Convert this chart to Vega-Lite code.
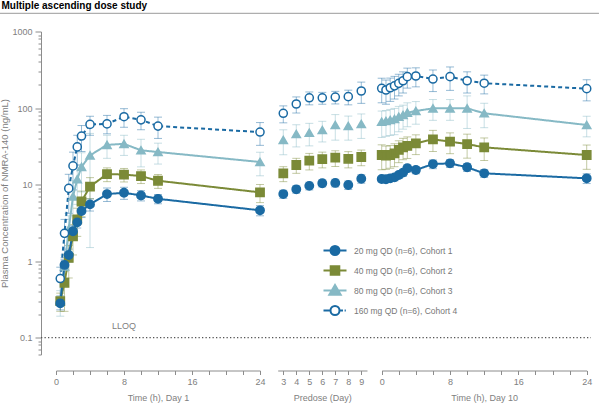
{
  "$schema": "https://vega.github.io/schema/vega-lite/v6.json",
  "width": 550,
  "height": 323,
  "autosize": {"type": "none"},
  "padding": {"left": 41, "top": 31.5, "right": 8, "bottom": 50.5},
  "background": "white",
  "title": {"text": "Multiple ascending dose study", "anchor": "start", "frame": "bounds", "fontSize": 10, "fontWeight": "bold", "color": "#000000", "font": "Liberation Sans", "offset": 2, "dx": 2},
  "config": {
    "view": {"stroke": null},
    "font": "Liberation Sans",
    "axis": {"grid": false, "labelColor": "#808080", "titleColor": "#808080", "domainColor": "#8c8c8c", "tickColor": "#8c8c8c", "labelFontSize": 9, "titleFontSize": 9, "titleFontWeight": "normal", "labelFont": "Liberation Sans", "titleFont": "Liberation Sans", "labelFlush": false, "labelOverlap": false, "labelBound": false}
  },
  "datasets": {
    "d1": [
      {"c": "80 mg QD (n=6), Cohort 3", "t": 0.5, "m": 0.3, "lo": 0.19, "hi": 0.41},
      {"c": "80 mg QD (n=6), Cohort 3", "t": 1, "m": 0.85, "lo": 0.5, "hi": 1.2},
      {"c": "80 mg QD (n=6), Cohort 3", "t": 1.5, "m": 2.6, "lo": 1.3, "hi": 3.9},
      {"c": "80 mg QD (n=6), Cohort 3", "t": 2, "m": 7.0, "lo": 2.8, "hi": 11.2},
      {"c": "80 mg QD (n=6), Cohort 3", "t": 2.5, "m": 11.7, "lo": 5.5, "hi": 17.9},
      {"c": "80 mg QD (n=6), Cohort 3", "t": 3, "m": 17, "lo": 8, "hi": 26},
      {"c": "80 mg QD (n=6), Cohort 3", "t": 4, "m": 24, "lo": 1.5, "hi": 46.5},
      {"c": "80 mg QD (n=6), Cohort 3", "t": 6, "m": 33, "lo": 22, "hi": 44},
      {"c": "80 mg QD (n=6), Cohort 3", "t": 8, "m": 34, "lo": 24, "hi": 44},
      {"c": "80 mg QD (n=6), Cohort 3", "t": 10, "m": 28, "lo": 17, "hi": 39},
      {"c": "80 mg QD (n=6), Cohort 3", "t": 12, "m": 26.6, "lo": 18.5, "hi": 34.7},
      {"c": "80 mg QD (n=6), Cohort 3", "t": 24, "m": 19.7, "lo": 13, "hi": 26.4},
      {"c": "40 mg QD (n=6), Cohort 2", "t": 0.5, "m": 0.3, "lo": 0.22, "hi": 0.38},
      {"c": "40 mg QD (n=6), Cohort 2", "t": 1, "m": 0.52, "lo": 0.22, "hi": 0.82},
      {"c": "40 mg QD (n=6), Cohort 2", "t": 1.5, "m": 1.1, "lo": 0.6, "hi": 1.6},
      {"c": "40 mg QD (n=6), Cohort 2", "t": 2, "m": 2.1, "lo": 1.2, "hi": 3.0},
      {"c": "40 mg QD (n=6), Cohort 2", "t": 2.5, "m": 3.5, "lo": 2.1, "hi": 4.9},
      {"c": "40 mg QD (n=6), Cohort 2", "t": 3, "m": 6.0, "lo": 3.8, "hi": 8.2},
      {"c": "40 mg QD (n=6), Cohort 2", "t": 4, "m": 9.4, "lo": 6.5, "hi": 12.3},
      {"c": "40 mg QD (n=6), Cohort 2", "t": 6, "m": 13.7, "lo": 10.9, "hi": 16.5},
      {"c": "40 mg QD (n=6), Cohort 2", "t": 8, "m": 13.5, "lo": 10.8, "hi": 16.2},
      {"c": "40 mg QD (n=6), Cohort 2", "t": 10, "m": 12.9, "lo": 10.3, "hi": 15.5},
      {"c": "40 mg QD (n=6), Cohort 2", "t": 12, "m": 11.2, "lo": 8.9, "hi": 13.5},
      {"c": "40 mg QD (n=6), Cohort 2", "t": 24, "m": 7.9, "lo": 5.8, "hi": 10.0},
      {"c": "20 mg QD (n=6), Cohort 1", "t": 0.5, "m": 0.28, "lo": 0.23, "hi": 0.33},
      {"c": "20 mg QD (n=6), Cohort 1", "t": 1, "m": 0.89, "lo": 0.74, "hi": 1.04},
      {"c": "20 mg QD (n=6), Cohort 1", "t": 1.5, "m": 1.2, "lo": 0.97, "hi": 1.43},
      {"c": "20 mg QD (n=6), Cohort 1", "t": 2, "m": 2.45, "lo": 2.0, "hi": 2.9},
      {"c": "20 mg QD (n=6), Cohort 1", "t": 2.5, "m": 3.2, "lo": 2.7, "hi": 3.7},
      {"c": "20 mg QD (n=6), Cohort 1", "t": 3, "m": 4.5, "lo": 3.7, "hi": 5.3},
      {"c": "20 mg QD (n=6), Cohort 1", "t": 4, "m": 5.5, "lo": 4.5, "hi": 6.5},
      {"c": "20 mg QD (n=6), Cohort 1", "t": 6, "m": 7.5, "lo": 6.0, "hi": 9.0},
      {"c": "20 mg QD (n=6), Cohort 1", "t": 8, "m": 7.8, "lo": 6.4, "hi": 9.2},
      {"c": "20 mg QD (n=6), Cohort 1", "t": 10, "m": 7.2, "lo": 6.1, "hi": 8.3},
      {"c": "20 mg QD (n=6), Cohort 1", "t": 12, "m": 6.5, "lo": 5.6, "hi": 7.4},
      {"c": "20 mg QD (n=6), Cohort 1", "t": 24, "m": 4.6, "lo": 3.9, "hi": 5.3},
      {"c": "160 mg QD (n=6), Cohort 4", "t": 0.5, "m": 0.59, "lo": 0.35, "hi": 0.83},
      {"c": "160 mg QD (n=6), Cohort 4", "t": 1, "m": 2.3, "lo": 1.1, "hi": 3.5},
      {"c": "160 mg QD (n=6), Cohort 4", "t": 1.5, "m": 8.9, "lo": 4.2, "hi": 13.6},
      {"c": "160 mg QD (n=6), Cohort 4", "t": 2, "m": 17.5, "lo": 8.5, "hi": 26.5},
      {"c": "160 mg QD (n=6), Cohort 4", "t": 2.5, "m": 31, "lo": 18, "hi": 44},
      {"c": "160 mg QD (n=6), Cohort 4", "t": 3, "m": 43, "lo": 27, "hi": 59},
      {"c": "160 mg QD (n=6), Cohort 4", "t": 4, "m": 61, "lo": 44, "hi": 78},
      {"c": "160 mg QD (n=6), Cohort 4", "t": 6, "m": 62, "lo": 46, "hi": 80},
      {"c": "160 mg QD (n=6), Cohort 4", "t": 8, "m": 77, "lo": 56, "hi": 98},
      {"c": "160 mg QD (n=6), Cohort 4", "t": 10, "m": 70, "lo": 52, "hi": 88},
      {"c": "160 mg QD (n=6), Cohort 4", "t": 12, "m": 58, "lo": 40, "hi": 76},
      {"c": "160 mg QD (n=6), Cohort 4", "t": 24, "m": 48.5, "lo": 32.5, "hi": 64.5}
    ],
    "pre": [
      {"c": "80 mg QD (n=6), Cohort 3", "t": 3, "m": 38.2, "lo": 24.5, "hi": 51.9},
      {"c": "80 mg QD (n=6), Cohort 3", "t": 4, "m": 45.7, "lo": 31, "hi": 60.4},
      {"c": "80 mg QD (n=6), Cohort 3", "t": 5, "m": 47.5, "lo": 32, "hi": 63},
      {"c": "80 mg QD (n=6), Cohort 3", "t": 6, "m": 51.5, "lo": 36, "hi": 67},
      {"c": "80 mg QD (n=6), Cohort 3", "t": 7, "m": 60, "lo": 38, "hi": 82},
      {"c": "80 mg QD (n=6), Cohort 3", "t": 8, "m": 58.2, "lo": 38, "hi": 78.4},
      {"c": "80 mg QD (n=6), Cohort 3", "t": 9, "m": 61.8, "lo": 40, "hi": 83.6},
      {"c": "40 mg QD (n=6), Cohort 2", "t": 3, "m": 14.0, "lo": 10.9, "hi": 17.1},
      {"c": "40 mg QD (n=6), Cohort 2", "t": 4, "m": 18.0, "lo": 14.0, "hi": 22.0},
      {"c": "40 mg QD (n=6), Cohort 2", "t": 5, "m": 20.5, "lo": 15.5, "hi": 25.5},
      {"c": "40 mg QD (n=6), Cohort 2", "t": 6, "m": 21.5, "lo": 16.5, "hi": 26.5},
      {"c": "40 mg QD (n=6), Cohort 2", "t": 7, "m": 22.4, "lo": 17.2, "hi": 27.6},
      {"c": "40 mg QD (n=6), Cohort 2", "t": 8, "m": 21.7, "lo": 16.5, "hi": 26.9},
      {"c": "40 mg QD (n=6), Cohort 2", "t": 9, "m": 22.9, "lo": 17.6, "hi": 28.2},
      {"c": "20 mg QD (n=6), Cohort 1", "t": 3, "m": 7.5, "lo": 6.6, "hi": 8.4},
      {"c": "20 mg QD (n=6), Cohort 1", "t": 4, "m": 8.65, "lo": 7.7, "hi": 9.6},
      {"c": "20 mg QD (n=6), Cohort 1", "t": 5, "m": 9.6, "lo": 8.5, "hi": 10.7},
      {"c": "20 mg QD (n=6), Cohort 1", "t": 6, "m": 10.4, "lo": 9.3, "hi": 11.5},
      {"c": "20 mg QD (n=6), Cohort 1", "t": 7, "m": 10.5, "lo": 9.3, "hi": 11.7},
      {"c": "20 mg QD (n=6), Cohort 1", "t": 8, "m": 9.85, "lo": 8.6, "hi": 11.1},
      {"c": "20 mg QD (n=6), Cohort 1", "t": 9, "m": 11.9, "lo": 10.4, "hi": 13.4},
      {"c": "160 mg QD (n=6), Cohort 4", "t": 3, "m": 85.3, "lo": 64, "hi": 106.6},
      {"c": "160 mg QD (n=6), Cohort 4", "t": 4, "m": 112.8, "lo": 86, "hi": 139.6},
      {"c": "160 mg QD (n=6), Cohort 4", "t": 5, "m": 136, "lo": 110, "hi": 162},
      {"c": "160 mg QD (n=6), Cohort 4", "t": 6, "m": 136, "lo": 112, "hi": 160},
      {"c": "160 mg QD (n=6), Cohort 4", "t": 7, "m": 139, "lo": 113, "hi": 165},
      {"c": "160 mg QD (n=6), Cohort 4", "t": 8, "m": 140.6, "lo": 110, "hi": 171},
      {"c": "160 mg QD (n=6), Cohort 4", "t": 9, "m": 166.8, "lo": 115, "hi": 218}
    ],
    "d10": [
      {"c": "80 mg QD (n=6), Cohort 3", "t": 0, "m": 66.2, "lo": 41.2, "hi": 91.2},
      {"c": "80 mg QD (n=6), Cohort 3", "t": 0.5, "m": 67.6, "lo": 42.6, "hi": 92.6},
      {"c": "80 mg QD (n=6), Cohort 3", "t": 1, "m": 69.7, "lo": 43.7, "hi": 95.7},
      {"c": "80 mg QD (n=6), Cohort 3", "t": 1.5, "m": 71.8, "lo": 44.8, "hi": 98.8},
      {"c": "80 mg QD (n=6), Cohort 3", "t": 2, "m": 76.9, "lo": 48.9, "hi": 104.9},
      {"c": "80 mg QD (n=6), Cohort 3", "t": 2.5, "m": 80.9, "lo": 52.9, "hi": 108.9},
      {"c": "80 mg QD (n=6), Cohort 3", "t": 3, "m": 86.9, "lo": 56.9, "hi": 116.9},
      {"c": "80 mg QD (n=6), Cohort 3", "t": 4, "m": 91.4, "lo": 61.4, "hi": 121.4},
      {"c": "80 mg QD (n=6), Cohort 3", "t": 6, "m": 99, "lo": 69, "hi": 129},
      {"c": "80 mg QD (n=6), Cohort 3", "t": 8, "m": 99, "lo": 69, "hi": 129},
      {"c": "80 mg QD (n=6), Cohort 3", "t": 10, "m": 99, "lo": 54, "hi": 144},
      {"c": "80 mg QD (n=6), Cohort 3", "t": 12, "m": 85.3, "lo": 55.3, "hi": 115.3},
      {"c": "80 mg QD (n=6), Cohort 3", "t": 24, "m": 60, "lo": 42, "hi": 78},
      {"c": "40 mg QD (n=6), Cohort 2", "t": 0, "m": 24.3, "lo": 15.6, "hi": 33.0},
      {"c": "40 mg QD (n=6), Cohort 2", "t": 0.5, "m": 23.8, "lo": 15.8, "hi": 31.8},
      {"c": "40 mg QD (n=6), Cohort 2", "t": 1, "m": 24.3, "lo": 16.3, "hi": 32.3},
      {"c": "40 mg QD (n=6), Cohort 2", "t": 1.5, "m": 25.6, "lo": 17.1, "hi": 34.1},
      {"c": "40 mg QD (n=6), Cohort 2", "t": 2, "m": 28.3, "lo": 19.3, "hi": 37.3},
      {"c": "40 mg QD (n=6), Cohort 2", "t": 2.5, "m": 30.6, "lo": 21.1, "hi": 40.1},
      {"c": "40 mg QD (n=6), Cohort 2", "t": 3, "m": 31.9, "lo": 21.9, "hi": 41.9},
      {"c": "40 mg QD (n=6), Cohort 2", "t": 4, "m": 34.6, "lo": 24.6, "hi": 44.6},
      {"c": "40 mg QD (n=6), Cohort 2", "t": 6, "m": 39, "lo": 27, "hi": 51},
      {"c": "40 mg QD (n=6), Cohort 2", "t": 8, "m": 36.3, "lo": 25.3, "hi": 47.3},
      {"c": "40 mg QD (n=6), Cohort 2", "t": 10, "m": 33.8, "lo": 22.1, "hi": 45.5},
      {"c": "40 mg QD (n=6), Cohort 2", "t": 12, "m": 30.6, "lo": 20.6, "hi": 40.6},
      {"c": "40 mg QD (n=6), Cohort 2", "t": 24, "m": 24.3, "lo": 15.8, "hi": 32.8},
      {"c": "20 mg QD (n=6), Cohort 1", "t": 0, "m": 11.8, "lo": 10.8, "hi": 12.8},
      {"c": "20 mg QD (n=6), Cohort 1", "t": 0.5, "m": 11.7, "lo": 10.7, "hi": 12.7},
      {"c": "20 mg QD (n=6), Cohort 1", "t": 1, "m": 12.05, "lo": 10.95, "hi": 13.15},
      {"c": "20 mg QD (n=6), Cohort 1", "t": 1.5, "m": 12.4, "lo": 11.2, "hi": 13.6},
      {"c": "20 mg QD (n=6), Cohort 1", "t": 2, "m": 13.3, "lo": 12.0, "hi": 14.6},
      {"c": "20 mg QD (n=6), Cohort 1", "t": 2.5, "m": 14.3, "lo": 12.8, "hi": 15.8},
      {"c": "20 mg QD (n=6), Cohort 1", "t": 3, "m": 16.3, "lo": 14.5, "hi": 18.1},
      {"c": "20 mg QD (n=6), Cohort 1", "t": 4, "m": 15.5, "lo": 13.8, "hi": 17.2},
      {"c": "20 mg QD (n=6), Cohort 1", "t": 6, "m": 18.5, "lo": 16.1, "hi": 20.9},
      {"c": "20 mg QD (n=6), Cohort 1", "t": 8, "m": 18.9, "lo": 16.7, "hi": 21.1},
      {"c": "20 mg QD (n=6), Cohort 1", "t": 10, "m": 16.8, "lo": 14.8, "hi": 18.8},
      {"c": "20 mg QD (n=6), Cohort 1", "t": 12, "m": 14.0, "lo": 12.4, "hi": 15.6},
      {"c": "20 mg QD (n=6), Cohort 1", "t": 24, "m": 12.05, "lo": 10.3, "hi": 13.8},
      {"c": "160 mg QD (n=6), Cohort 4", "t": 0, "m": 181, "lo": 117, "hi": 245},
      {"c": "160 mg QD (n=6), Cohort 4", "t": 0.5, "m": 172, "lo": 112, "hi": 232},
      {"c": "160 mg QD (n=6), Cohort 4", "t": 1, "m": 184, "lo": 122, "hi": 246},
      {"c": "160 mg QD (n=6), Cohort 4", "t": 1.5, "m": 195, "lo": 131, "hi": 259},
      {"c": "160 mg QD (n=6), Cohort 4", "t": 2, "m": 210, "lo": 144, "hi": 276},
      {"c": "160 mg QD (n=6), Cohort 4", "t": 2.5, "m": 227, "lo": 157, "hi": 297},
      {"c": "160 mg QD (n=6), Cohort 4", "t": 3, "m": 257, "lo": 182, "hi": 332},
      {"c": "160 mg QD (n=6), Cohort 4", "t": 4, "m": 262, "lo": 189, "hi": 335},
      {"c": "160 mg QD (n=6), Cohort 4", "t": 6, "m": 239, "lo": 164, "hi": 314},
      {"c": "160 mg QD (n=6), Cohort 4", "t": 8, "m": 257, "lo": 170, "hi": 344},
      {"c": "160 mg QD (n=6), Cohort 4", "t": 10, "m": 227, "lo": 157, "hi": 297},
      {"c": "160 mg QD (n=6), Cohort 4", "t": 12, "m": 211, "lo": 153, "hi": 269},
      {"c": "160 mg QD (n=6), Cohort 4", "t": 24, "m": 179, "lo": 124, "hi": 234}
    ]
  },
  "resolve": {"scale": {"x": "independent", "stroke": "independent", "fill": "independent", "shape": "independent", "size": "independent", "strokeDash": "independent"}, "axis": {"x": "independent"}},
  "layer": [
    {
      "data": {"name": "d1"},
      "encoding": {
        "x": {"field": "t", "type": "quantitative", "scale": {"domain": [0, 24], "range": [15, 219], "nice": false, "zero": false},
          "axis": {"orient": "bottom", "offset": 16, "values": [0, 2, 4, 6, 8, 10, 12, 14, 16, 18, 20, 22, 24], "labelExpr": "datum.value % 8 === 0 ? datum.label : ''", "tickSize": 4, "labelPadding": 3, "title": "Time (h), Day 1", "titlePadding": 7}}
      },
      "layer": [
        {"mark": {"type": "rule", "strokeWidth": 1, "opacity": 0.45},
          "encoding": {
            "y": {"field": "hi", "type": "quantitative", "scale": {"type": "log", "domain": [0.06, 1000], "nice": false},
              "axis": {"values": [0.06, 0.07, 0.08, 0.09, 0.1, 0.2, 0.3, 0.4, 0.5, 0.6, 0.7, 0.8, 0.9, 1, 2, 3, 4, 5, 6, 7, 8, 9, 10, 20, 30, 40, 50, 60, 70, 80, 90, 100, 200, 300, 400, 500, 600, 700, 800, 900, 1000],
                "labelExpr": "indexof([0.1, 1, 10, 100, 1000], datum.value) >= 0 ? format(datum.value, '~g') : ''",
                "tickSize": {"condition": {"test": "indexof([0.1, 1, 10, 100, 1000], datum.value) >= 0", "value": 6}, "value": 3},
                "labelPadding": 3, "title": "Plasma Concentration of  NMRA-140 (ng/mL)", "titlePadding": 2, "titleFontSize": 9.5}},
            "y2": {"field": "lo"},
            "stroke": {"field": "c", "type": "nominal", "scale": {"domain": ["20 mg QD (n=6), Cohort 1", "40 mg QD (n=6), Cohort 2", "80 mg QD (n=6), Cohort 3", "160 mg QD (n=6), Cohort 4"], "range": ["#1a6aa3", "#7b8a37", "#86b9c5", "#1a6aa3"]}, "legend": null}
          }},
        {"transform": [{"filter": "datum.t === 24 && datum.c === '20 mg QD (n=6), Cohort 1'"}],
          "mark": {"type": "rule", "stroke": "#9a9a9a", "strokeWidth": 1},
          "encoding": {"x": {"datum": -6.59, "type": "quantitative"}, "x2": {"datum": 63.88}, "y": {"datum": 1729, "type": "quantitative"}}},
        {"transform": [{"filter": "datum.t === 24 && datum.c === '20 mg QD (n=6), Cohort 1'"}],
          "mark": {"type": "rule", "stroke": "#555555", "strokeWidth": 1.3, "strokeDash": [1.3, 2.2]},
          "encoding": {"x": {"datum": -1.765, "type": "quantitative"}, "x2": {"datum": 62.94}, "y": {"datum": 0.1, "type": "quantitative"}}},
        {"transform": [{"filter": "datum.t === 24 && datum.c === '20 mg QD (n=6), Cohort 1'"}],
          "mark": {"type": "text", "text": "LLOQ", "fontSize": 9, "color": "#808080", "dy": -12, "font": "Liberation Sans"},
          "encoding": {"x": {"datum": 8, "type": "quantitative"}, "y": {"datum": 0.1, "type": "quantitative"}}},
        {"mark": {"type": "point", "shape": "stroke", "size": 64, "strokeWidth": 1, "opacity": 0.45},
          "encoding": {
            "y": {"field": "hi", "type": "quantitative"},
            "stroke": {"field": "c", "type": "nominal", "scale": {"domain": ["20 mg QD (n=6), Cohort 1", "40 mg QD (n=6), Cohort 2", "80 mg QD (n=6), Cohort 3", "160 mg QD (n=6), Cohort 4"], "range": ["#1a6aa3", "#7b8a37", "#86b9c5", "#1a6aa3"]}, "legend": null}
          }},
        {"mark": {"type": "point", "shape": "stroke", "size": 64, "strokeWidth": 1, "opacity": 0.45},
          "encoding": {
            "y": {"field": "lo", "type": "quantitative"},
            "stroke": {"field": "c", "type": "nominal", "scale": {"domain": ["20 mg QD (n=6), Cohort 1", "40 mg QD (n=6), Cohort 2", "80 mg QD (n=6), Cohort 3", "160 mg QD (n=6), Cohort 4"], "range": ["#1a6aa3", "#7b8a37", "#86b9c5", "#1a6aa3"]}, "legend": null}
          }},
        {"mark": {"type": "line", "strokeWidth": 2},
          "encoding": {
            "y": {"field": "m", "type": "quantitative"},
            "stroke": {"field": "c", "type": "nominal", "scale": {"domain": ["20 mg QD (n=6), Cohort 1", "40 mg QD (n=6), Cohort 2", "80 mg QD (n=6), Cohort 3", "160 mg QD (n=6), Cohort 4"], "range": ["#1a6aa3", "#7b8a37", "#86b9c5", "#1a6aa3"]}, "legend": null},
            "strokeDash": {"field": "c", "type": "nominal", "scale": {"domain": ["20 mg QD (n=6), Cohort 1", "40 mg QD (n=6), Cohort 2", "80 mg QD (n=6), Cohort 3", "160 mg QD (n=6), Cohort 4"], "range": [[1, 0], [1, 0], [1, 0], [4, 3]]}, "legend": null}
          }},
        {"mark": {"type": "point", "filled": false, "opacity": 1, "strokeWidth": 1.5},
          "encoding": {
            "y": {"field": "m", "type": "quantitative"},
            "stroke": {"field": "c", "type": "nominal", "scale": {"domain": ["20 mg QD (n=6), Cohort 1", "40 mg QD (n=6), Cohort 2", "80 mg QD (n=6), Cohort 3", "160 mg QD (n=6), Cohort 4"], "range": ["#1a6aa3", "#7b8a37", "#86b9c5", "#1a6aa3"]}, "legend": null},
            "fill": {"field": "c", "type": "nominal", "scale": {"domain": ["20 mg QD (n=6), Cohort 1", "40 mg QD (n=6), Cohort 2", "80 mg QD (n=6), Cohort 3", "160 mg QD (n=6), Cohort 4"], "range": ["#1a6aa3", "#7b8a37", "#86b9c5", "#ffffff"]}, "legend": null},
            "shape": {"field": "c", "type": "nominal", "scale": {"domain": ["20 mg QD (n=6), Cohort 1", "40 mg QD (n=6), Cohort 2", "80 mg QD (n=6), Cohort 3", "160 mg QD (n=6), Cohort 4"], "range": ["circle", "square", "triangle-up", "circle"]}, "legend": null},
            "size": {"field": "c", "type": "nominal", "scale": {"domain": ["20 mg QD (n=6), Cohort 1", "40 mg QD (n=6), Cohort 2", "80 mg QD (n=6), Cohort 3", "160 mg QD (n=6), Cohort 4"], "range": [70, 66, 110, 72]}, "legend": null}
          }}
      ]
    },
    {
      "data": {"name": "pre"},
      "encoding": {
        "x": {"field": "t", "type": "quantitative", "scale": {"domain": [2.57, 9.44], "range": [236.7, 326], "nice": false, "zero": false},
          "axis": {"orient": "bottom", "offset": 16, "values": [3, 4, 5, 6, 7, 8, 9], "tickSize": 4, "labelPadding": 3, "title": "Predose (Day)", "titlePadding": 7}}
      },
      "layer": [
        {"mark": {"type": "rule", "strokeWidth": 1, "opacity": 0.45},
          "encoding": {
            "y": {"field": "hi", "type": "quantitative"},
            "y2": {"field": "lo"},
            "stroke": {"field": "c", "type": "nominal", "scale": {"domain": ["20 mg QD (n=6), Cohort 1", "40 mg QD (n=6), Cohort 2", "80 mg QD (n=6), Cohort 3", "160 mg QD (n=6), Cohort 4"], "range": ["#1a6aa3", "#7b8a37", "#86b9c5", "#1a6aa3"]}, "legend": null}
          }},
        {"mark": {"type": "point", "shape": "stroke", "size": 64, "strokeWidth": 1, "opacity": 0.45},
          "encoding": {
            "y": {"field": "hi", "type": "quantitative"},
            "stroke": {"field": "c", "type": "nominal", "scale": {"domain": ["20 mg QD (n=6), Cohort 1", "40 mg QD (n=6), Cohort 2", "80 mg QD (n=6), Cohort 3", "160 mg QD (n=6), Cohort 4"], "range": ["#1a6aa3", "#7b8a37", "#86b9c5", "#1a6aa3"]}, "legend": null}
          }},
        {"mark": {"type": "point", "shape": "stroke", "size": 64, "strokeWidth": 1, "opacity": 0.45},
          "encoding": {
            "y": {"field": "lo", "type": "quantitative"},
            "stroke": {"field": "c", "type": "nominal", "scale": {"domain": ["20 mg QD (n=6), Cohort 1", "40 mg QD (n=6), Cohort 2", "80 mg QD (n=6), Cohort 3", "160 mg QD (n=6), Cohort 4"], "range": ["#1a6aa3", "#7b8a37", "#86b9c5", "#1a6aa3"]}, "legend": null}
          }},
        {"mark": {"type": "point", "filled": false, "opacity": 1, "strokeWidth": 1.5},
          "encoding": {
            "y": {"field": "m", "type": "quantitative"},
            "stroke": {"field": "c", "type": "nominal", "scale": {"domain": ["20 mg QD (n=6), Cohort 1", "40 mg QD (n=6), Cohort 2", "80 mg QD (n=6), Cohort 3", "160 mg QD (n=6), Cohort 4"], "range": ["#1a6aa3", "#7b8a37", "#86b9c5", "#1a6aa3"]}, "legend": null},
            "fill": {"field": "c", "type": "nominal", "scale": {"domain": ["20 mg QD (n=6), Cohort 1", "40 mg QD (n=6), Cohort 2", "80 mg QD (n=6), Cohort 3", "160 mg QD (n=6), Cohort 4"], "range": ["#1a6aa3", "#7b8a37", "#86b9c5", "#ffffff"]}, "legend": null},
            "shape": {"field": "c", "type": "nominal", "scale": {"domain": ["20 mg QD (n=6), Cohort 1", "40 mg QD (n=6), Cohort 2", "80 mg QD (n=6), Cohort 3", "160 mg QD (n=6), Cohort 4"], "range": ["circle", "square", "triangle-up", "circle"]}, "legend": null},
            "size": {"field": "c", "type": "nominal", "scale": {"domain": ["20 mg QD (n=6), Cohort 1", "40 mg QD (n=6), Cohort 2", "80 mg QD (n=6), Cohort 3", "160 mg QD (n=6), Cohort 4"], "range": [70, 66, 110, 72]}, "legend": null}
          }}
      ]
    },
    {
      "data": {"name": "d10"},
      "encoding": {
        "x": {"field": "t", "type": "quantitative", "scale": {"domain": [0, 24], "range": [340.7, 545.7], "nice": false, "zero": false},
          "axis": {"orient": "bottom", "offset": 16, "values": [0, 2, 4, 6, 8, 10, 12, 14, 16, 18, 20, 22, 24], "labelExpr": "datum.value % 8 === 0 ? datum.label : ''", "tickSize": 4, "labelPadding": 3, "title": "Time (h), Day 10", "titlePadding": 7}}
      },
      "layer": [
        {"mark": {"type": "rule", "strokeWidth": 1, "opacity": 0.45},
          "encoding": {
            "y": {"field": "hi", "type": "quantitative"},
            "y2": {"field": "lo"},
            "stroke": {"field": "c", "type": "nominal", "scale": {"domain": ["20 mg QD (n=6), Cohort 1", "40 mg QD (n=6), Cohort 2", "80 mg QD (n=6), Cohort 3", "160 mg QD (n=6), Cohort 4"], "range": ["#1a6aa3", "#7b8a37", "#86b9c5", "#1a6aa3"]}, "legend": null}
          }},
        {"mark": {"type": "point", "shape": "stroke", "size": 64, "strokeWidth": 1, "opacity": 0.45},
          "encoding": {
            "y": {"field": "hi", "type": "quantitative"},
            "stroke": {"field": "c", "type": "nominal", "scale": {"domain": ["20 mg QD (n=6), Cohort 1", "40 mg QD (n=6), Cohort 2", "80 mg QD (n=6), Cohort 3", "160 mg QD (n=6), Cohort 4"], "range": ["#1a6aa3", "#7b8a37", "#86b9c5", "#1a6aa3"]}, "legend": null}
          }},
        {"mark": {"type": "point", "shape": "stroke", "size": 64, "strokeWidth": 1, "opacity": 0.45},
          "encoding": {
            "y": {"field": "lo", "type": "quantitative"},
            "stroke": {"field": "c", "type": "nominal", "scale": {"domain": ["20 mg QD (n=6), Cohort 1", "40 mg QD (n=6), Cohort 2", "80 mg QD (n=6), Cohort 3", "160 mg QD (n=6), Cohort 4"], "range": ["#1a6aa3", "#7b8a37", "#86b9c5", "#1a6aa3"]}, "legend": null}
          }},
        {"mark": {"type": "line", "strokeWidth": 2},
          "encoding": {
            "y": {"field": "m", "type": "quantitative"},
            "stroke": {"field": "c", "type": "nominal", "scale": {"domain": ["20 mg QD (n=6), Cohort 1", "40 mg QD (n=6), Cohort 2", "80 mg QD (n=6), Cohort 3", "160 mg QD (n=6), Cohort 4"], "range": ["#1a6aa3", "#7b8a37", "#86b9c5", "#1a6aa3"]}, "legend": null},
            "strokeDash": {"field": "c", "type": "nominal", "scale": {"domain": ["20 mg QD (n=6), Cohort 1", "40 mg QD (n=6), Cohort 2", "80 mg QD (n=6), Cohort 3", "160 mg QD (n=6), Cohort 4"], "range": [[1, 0], [1, 0], [1, 0], [4, 3]]}, "legend": null}
          }},
        {"mark": {"type": "point", "filled": false, "opacity": 1, "strokeWidth": 1.5},
          "encoding": {
            "y": {"field": "m", "type": "quantitative"},
            "stroke": {"field": "c", "type": "nominal", "scale": {"domain": ["20 mg QD (n=6), Cohort 1", "40 mg QD (n=6), Cohort 2", "80 mg QD (n=6), Cohort 3", "160 mg QD (n=6), Cohort 4"], "range": ["#1a6aa3", "#7b8a37", "#86b9c5", "#1a6aa3"]}, "legend": null},
            "fill": {"field": "c", "type": "nominal", "scale": {"domain": ["20 mg QD (n=6), Cohort 1", "40 mg QD (n=6), Cohort 2", "80 mg QD (n=6), Cohort 3", "160 mg QD (n=6), Cohort 4"], "range": ["#1a6aa3", "#7b8a37", "#86b9c5", "#ffffff"]}, "legend": null},
            "shape": {"field": "c", "type": "nominal", "scale": {"domain": ["20 mg QD (n=6), Cohort 1", "40 mg QD (n=6), Cohort 2", "80 mg QD (n=6), Cohort 3", "160 mg QD (n=6), Cohort 4"], "range": ["circle", "square", "triangle-up", "circle"]}, "legend": null},
            "size": {"field": "c", "type": "nominal", "scale": {"domain": ["20 mg QD (n=6), Cohort 1", "40 mg QD (n=6), Cohort 2", "80 mg QD (n=6), Cohort 3", "160 mg QD (n=6), Cohort 4"], "range": [70, 66, 110, 72]}, "legend": null}
          }}
      ]
    },
    {
      "data": {"name": "d1"},
      "transform": [{"filter": "false"}],
      "mark": {"type": "point", "filled": false, "opacity": 1, "strokeWidth": 2},
      "encoding": {
        "stroke": {"field": "c", "type": "nominal", "scale": {"domain": ["20 mg QD (n=6), Cohort 1", "40 mg QD (n=6), Cohort 2", "80 mg QD (n=6), Cohort 3", "160 mg QD (n=6), Cohort 4"], "range": ["#1a6aa3", "#7b8a37", "#86b9c5", "#1a6aa3"]},
          "legend": {"orient": "none", "legendX": 283, "legendY": 208, "title": null, "symbolSize": 400, "symbolStrokeWidth": 2, "labelFontSize": 8.5, "labelColor": "#777777", "labelFont": "Liberation Sans", "labelOffset": 8, "rowPadding": 0, "padding": 0}},
        "fill": {"field": "c", "type": "nominal", "scale": {"domain": ["20 mg QD (n=6), Cohort 1", "40 mg QD (n=6), Cohort 2", "80 mg QD (n=6), Cohort 3", "160 mg QD (n=6), Cohort 4"], "range": ["#1a6aa3", "#7b8a37", "#86b9c5", "#ffffff"]}},
        "shape": {"field": "c", "type": "nominal", "scale": {"domain": ["20 mg QD (n=6), Cohort 1", "40 mg QD (n=6), Cohort 2", "80 mg QD (n=6), Cohort 3", "160 mg QD (n=6), Cohort 4"], "range": [
          "M-1.15,0H1.15M0.45,0A0.45,0.45,0,1,1,-0.45,0A0.45,0.45,0,1,1,0.45,0Z",
          "M-1.15,0H1.15M-0.43,-0.43H0.43V0.43H-0.43Z",
          "M-1.15,0H1.15M0,-0.55L0.57,0.42H-0.57Z",
          "M-1.15,0H-0.46M0.46,0H0.8M0.96,0H1.08M0.45,0A0.45,0.45,0,1,1,-0.45,0A0.45,0.45,0,1,1,0.45,0Z"]}}
      }
    }
  ]
}
